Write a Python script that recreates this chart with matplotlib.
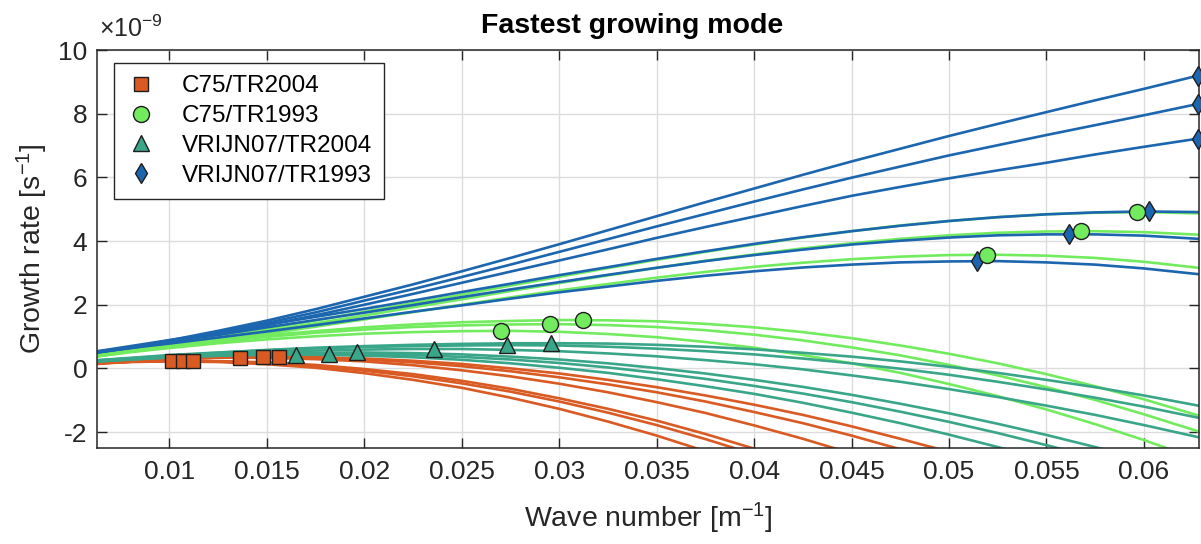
import matplotlib
matplotlib.use("Agg")
import matplotlib.pyplot as plt
from matplotlib.lines import Line2D

plt.rcParams['font.family'] = ['Liberation Sans', 'DejaVu Sans']
plt.rcParams['mathtext.fontset'] = 'custom'
plt.rcParams['mathtext.rm'] = 'Liberation Sans'
plt.rcParams['mathtext.it'] = 'Liberation Sans:italic'
plt.rcParams['mathtext.bf'] = 'Liberation Sans:bold'
plt.rcParams['axes.unicode_minus'] = False

# wave numbers [1/m] at which the growth rates are sampled
k = [0.0063, 0.008, 0.01, 0.0125, 0.015, 0.0175, 0.02, 0.0225, 0.025, 0.0275,
     0.03, 0.0325, 0.035, 0.0375, 0.04, 0.0425, 0.045, 0.0475, 0.05, 0.0525,
     0.055, 0.0575, 0.06, 0.0628]

# growth rate curves (units of 1e-9 1/s), one list per case
c75_tr2004 = [
    [0.16, 0.20, 0.22, 0.20, 0.13, 0.02, -0.15, -0.36, -0.61, -0.92, -1.27, -1.67, -2.11, -2.60, -3.14],
    [0.16, 0.21, 0.23, 0.22, 0.17, 0.07, -0.07, -0.25, -0.47, -0.73, -1.04, -1.39, -1.78, -2.22, -2.70],
    [0.16, 0.21, 0.24, 0.23, 0.19, 0.11, -0.02, -0.18, -0.39, -0.64, -0.94, -1.27, -1.64, -2.06, -2.52, -3.02],
    [0.18, 0.24, 0.30, 0.34, 0.33, 0.29, 0.22, 0.10, -0.06, -0.25, -0.48, -0.75, -1.06, -1.40, -1.79, -2.21, -2.67],
    [0.16, 0.23, 0.29, 0.34, 0.35, 0.33, 0.28, 0.19, 0.07, -0.09, -0.28, -0.50, -0.75, -1.04, -1.37, -1.72, -2.11, -2.54],
    [0.14, 0.21, 0.28, 0.34, 0.36, 0.35, 0.31, 0.24, 0.14, 0.00, -0.16, -0.36, -0.59, -0.85, -1.14, -1.46, -1.82, -2.21, -2.62],
]
c75_tr1993 = [
    [0.38, 0.51, 0.64, 0.79, 0.91, 1.01, 1.09, 1.14, 1.17, 1.18, 1.15, 1.08, 0.98, 0.83, 0.65, 0.42, 0.16, -0.14, -0.49, -0.87, -1.29, -1.75, -2.25, -2.86],
    [0.38, 0.52, 0.68, 0.85, 0.99, 1.12, 1.22, 1.30, 1.35, 1.38, 1.39, 1.36, 1.30, 1.20, 1.06, 0.88, 0.66, 0.41, 0.11, -0.22, -0.59, -0.99, -1.44, -1.98],
    [0.38, 0.53, 0.69, 0.88, 1.04, 1.17, 1.29, 1.38, 1.45, 1.49, 1.52, 1.51, 1.48, 1.40, 1.29, 1.14, 0.95, 0.72, 0.46, 0.16, -0.18, -0.56, -0.97, -1.48],
    [0.42, 0.54, 0.68, 0.88, 1.09, 1.31, 1.54, 1.77, 2.00, 2.23, 2.45, 2.65, 2.85, 3.03, 3.19, 3.32, 3.43, 3.51, 3.56, 3.57, 3.54, 3.47, 3.35, 3.16],
    [0.45, 0.58, 0.74, 0.95, 1.18, 1.42, 1.66, 1.92, 2.17, 2.43, 2.68, 2.92, 3.16, 3.38, 3.58, 3.77, 3.93, 4.07, 4.18, 4.26, 4.30, 4.31, 4.28, 4.20],
    [0.48, 0.61, 0.78, 1.01, 1.25, 1.51, 1.78, 2.05, 2.32, 2.60, 2.88, 3.15, 3.41, 3.66, 3.89, 4.11, 4.31, 4.49, 4.63, 4.75, 4.84, 4.89, 4.91, 4.87],
]
vrijn07_tr2004 = [
    [0.22, 0.28, 0.34, 0.40, 0.43, 0.43, 0.40, 0.35, 0.27, 0.16, 0.02, -0.14, -0.34, -0.56, -0.80, -1.08, -1.39, -1.72, -2.08, -2.47, -2.88],
    [0.22, 0.28, 0.35, 0.40, 0.44, 0.46, 0.45, 0.42, 0.36, 0.28, 0.17, 0.03, -0.14, -0.33, -0.55, -0.79, -1.06, -1.36, -1.68, -2.03, -2.41, -2.81],
    [0.22, 0.29, 0.35, 0.42, 0.47, 0.49, 0.50, 0.48, 0.44, 0.37, 0.28, 0.16, 0.01, -0.16, -0.36, -0.58, -0.83, -1.11, -1.41, -1.74, -2.09, -2.47, -2.87],
    [0.24, 0.31, 0.38, 0.46, 0.52, 0.56, 0.59, 0.61, 0.61, 0.58, 0.54, 0.47, 0.38, 0.26, 0.13, -0.03, -0.22, -0.42, -0.65, -0.90, -1.17, -1.46, -1.78, -2.16],
    [0.25, 0.32, 0.40, 0.49, 0.57, 0.63, 0.67, 0.70, 0.72, 0.73, 0.72, 0.68, 0.62, 0.54, 0.44, 0.31, 0.16, -0.01, -0.20, -0.42, -0.66, -0.92, -1.20, -1.55],
    [0.26, 0.33, 0.42, 0.50, 0.58, 0.65, 0.70, 0.74, 0.77, 0.79, 0.79, 0.78, 0.74, 0.68, 0.60, 0.49, 0.37, 0.22, 0.05, -0.14, -0.36, -0.59, -0.85, -1.17],
]
vrijn07_tr1993 = [
    [0.52, 0.64, 0.78, 0.97, 1.16, 1.36, 1.57, 1.78, 1.98, 2.19, 2.39, 2.57, 2.75, 2.91, 3.05, 3.17, 3.26, 3.33, 3.36, 3.37, 3.33, 3.26, 3.14, 2.96],
    [0.53, 0.67, 0.84, 1.05, 1.29, 1.52, 1.75, 1.99, 2.24, 2.48, 2.71, 2.94, 3.16, 3.37, 3.56, 3.73, 3.89, 4.01, 4.11, 4.18, 4.21, 4.21, 4.17, 4.07],
    [0.54, 0.70, 0.89, 1.12, 1.37, 1.62, 1.87, 2.13, 2.40, 2.66, 2.93, 3.18, 3.44, 3.68, 3.91, 4.12, 4.31, 4.48, 4.63, 4.75, 4.84, 4.90, 4.93, 4.91],
    [0.50, 0.64, 0.83, 1.08, 1.36, 1.67, 2.00, 2.34, 2.69, 3.04, 3.39, 3.74, 4.10, 4.44, 4.77, 5.10, 5.42, 5.70, 5.97, 6.22, 6.46, 6.72, 6.96, 7.22],
    [0.50, 0.65, 0.85, 1.13, 1.43, 1.76, 2.13, 2.49, 2.87, 3.26, 3.66, 4.06, 4.46, 4.85, 5.24, 5.62, 5.99, 6.34, 6.69, 7.01, 7.33, 7.64, 7.95, 8.31],
    [0.50, 0.66, 0.88, 1.18, 1.50, 1.86, 2.25, 2.64, 3.05, 3.47, 3.90, 4.34, 4.78, 5.22, 5.65, 6.08, 6.50, 6.90, 7.30, 7.68, 8.05, 8.42, 8.78, 9.20],
]

# fastest growing mode of every curve (wave number, growth rate)
sq_k = [0.01014, 0.01068, 0.01121, 0.01364, 0.01478, 0.0156]
sq_rate = [0.22, 0.23, 0.24, 0.34, 0.35, 0.36]
circ_k = [0.0270, 0.02955, 0.0312, 0.05196, 0.05679, 0.05964]
circ_rate = [1.18, 1.39, 1.52, 3.575, 4.32, 4.91]
tri_k = [0.0165, 0.0182, 0.0196, 0.0236, 0.0273, 0.0296]
tri_rate = [0.43, 0.46, 0.50, 0.61, 0.73, 0.79]
dia_k = [0.05145, 0.05618, 0.06028, 0.0628, 0.0628, 0.0628]
dia_rate = [3.37, 4.22, 4.93, 7.22, 8.31, 9.20]

xticks = [0.01, 0.015, 0.02, 0.025, 0.03, 0.035, 0.04, 0.045, 0.05, 0.055, 0.06]
xtick_labels = ['0.01', '0.015', '0.02', '0.025', '0.03', '0.035', '0.04', '0.045', '0.05', '0.055', '0.06']
yticks = [-2, 0, 2, 4, 6, 8, 10]
ytick_labels = ['-2', '0', '2', '4', '6', '8', '10']

orange = '#D95A22'
green = '#72EC5E'
teal = '#3AA689'
blue = '#1C66AF'
edge = '#1e1e1e'

fig = plt.figure(figsize=(12.01, 5.44), dpi=100)
ax = fig.add_axes([0.0808, 0.1765, 0.9175, 0.7315])

for y in c75_tr2004:
    ax.plot(k[:len(y)], y, color=orange, lw=1.9)
for y in c75_tr1993:
    ax.plot(k[:len(y)], y, color=green, lw=1.9)
for y in vrijn07_tr2004:
    ax.plot(k[:len(y)], y, color=teal, lw=1.9)
for y in vrijn07_tr1993:
    ax.plot(k[:len(y)], y, color=blue, lw=1.9)

ax.plot(sq_k, sq_rate, 's', ms=10, mfc=orange, mec=edge, mew=1, clip_on=False, zorder=5)
ax.plot(tri_k, tri_rate, '^', ms=11.5, mfc=teal, mec=edge, mew=1, clip_on=False, zorder=5)
ax.plot(dia_k, dia_rate, 'd', ms=10.2, mfc=blue, mec=edge, mew=1, clip_on=False, zorder=5)
ax.plot(circ_k, circ_rate, 'o', ms=11.5, mfc=green, mec=edge, mew=1, clip_on=False, zorder=5)

ax.set_xlim(0.006283, 0.06283)
ax.set_ylim(-2.5, 10)
ax.set_xticks(xticks)
ax.set_xticklabels(xtick_labels)
ax.set_yticks(yticks)
ax.set_yticklabels(ytick_labels)
ax.tick_params(direction='in', length=7, width=1, top=True, right=True,
               labelsize=19, colors='#262626')
ax.tick_params(axis='x', pad=9)
ax.tick_params(axis='y', pad=7)
ax.grid(True, color='#dcdcdc', lw=1)
ax.set_axisbelow(True)
for s in ax.spines.values():
    s.set_color('#262626')
    s.set_linewidth(1.1)

ax.set_xlabel('Wave number [m$^{-1}$]', fontsize=20.5, color='#262626', labelpad=12)
ax.set_ylabel('Growth rate [s$^{-1}$]', fontsize=20.5, color='#262626', labelpad=6)
ax.set_title('Fastest growing mode', fontsize=20.5, fontweight='bold', x=0.4855, pad=12)
ax.text(0.002, 1.02, r'$\times10^{-9}$', transform=ax.transAxes, fontsize=18,
        color='#262626', ha='left', va='bottom')

handles = [
    Line2D([], [], ls='none', marker='s', ms=10, mfc=orange, mec=edge, mew=1),
    Line2D([], [], ls='none', marker='o', ms=11.5, mfc=green, mec=edge, mew=1),
    Line2D([], [], ls='none', marker='^', ms=11.5, mfc=teal, mec=edge, mew=1),
    Line2D([], [], ls='none', marker='d', ms=10.2, mfc=blue, mec=edge, mew=1),
]
labels = ['C75/TR2004', 'C75/TR1993', 'VRIJN07/TR2004', 'VRIJN07/TR1993']
leg = ax.legend(handles, labels, loc='upper left', bbox_to_anchor=(0.0154, 0.967),
                borderaxespad=0, fontsize=17.5, fancybox=False, framealpha=1,
                edgecolor='#262626', labelspacing=0.32, handlelength=1.2,
                handletextpad=1.1, borderpad=0.5)
leg.get_frame().set_linewidth(1)
leg.set_zorder(10)

fig.savefig('out.png', dpi=100)
